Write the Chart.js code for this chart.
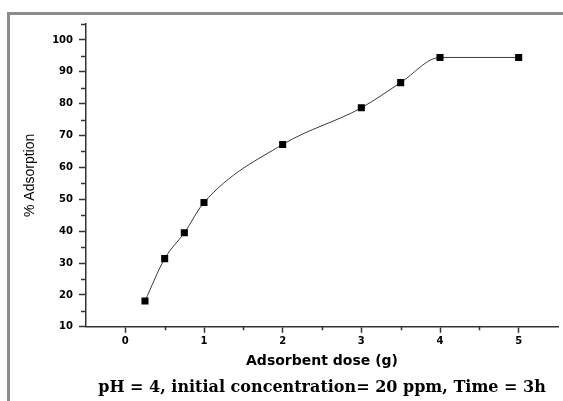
<!DOCTYPE html>
<html>
<head>
<meta charset="utf-8">
<script src="https://cdn.jsdelivr.net/npm/chart.js@4.4.1/dist/chart.umd.min.js"></script>
<style>
  html, body { margin: 0; padding: 0; background: #fff; overflow: hidden; }
  #wrap { position: relative; width: 563px; height: 401px; overflow: hidden; }
  #frame {
    position: absolute; left: 7px; top: 12px; width: 620px; height: 460px;
    border-left: 3px solid #8c8c8c; border-top: 3px solid #8c8c8c;
  }
  #chart { position: absolute; left: 0; top: 0; }
</style>
</head>
<body>
<div id="wrap">
  <div id="frame"></div>
  <canvas id="chart" width="563" height="401"></canvas>
</div>
<script>
// Data
const doses = [0.25, 0.5, 0.75, 1, 2, 3, 3.5, 4, 5]
const adsorption = [18.1, 31.4, 39.5, 49.0, 67.2, 78.7, 86.6, 94.5, 94.5]

// Ticks
const xTicks = [0, 1, 2, 3, 4, 5]
const xMinorTicks = [0.5, 1.5, 2.5, 3.5, 4.5]
const yTicks = [10, 20, 30, 40, 50, 60, 70, 80, 90, 100]
const yMinorTicks = [15, 25, 35, 45, 55, 65, 75, 85, 95, 105]

const axisColor = '#333'
const tickFont = { family: 'DejaVu Sans', size: 10, weight: 'bold' }

// Short minor tick marks, drawn outside the plot area
const minorTicks = {
  id: 'minorTicks',
  afterDraw(chart) {
    const { ctx, scales: { x, y } } = chart
    ctx.save()
    ctx.strokeStyle = axisColor
    ctx.lineWidth = 1.5
    ctx.beginPath()
    yMinorTicks.forEach(v => {
      const py = Math.round(y.getPixelForValue(v)) + 0.5
      ctx.moveTo(y.right - 5, py)
      ctx.lineTo(y.right, py)
    })
    xMinorTicks.forEach(v => {
      const px = Math.round(x.getPixelForValue(v)) + 0.5
      ctx.moveTo(px, x.top)
      ctx.lineTo(px, x.top + 3.5)
    })
    ctx.stroke()
    ctx.restore()
  }
}

const ctx = document.getElementById('chart').getContext('2d')
new Chart(ctx, {
  type: 'line',
  data: {
    datasets: [
      {
        data: doses.map((d, i) => ({ x: d, y: adsorption[i] })),
        borderColor: '#3a3a3a',
        borderWidth: 1,
        cubicInterpolationMode: 'monotone',
        pointStyle: 'rect',
        pointRadius: 5,
        pointBackgroundColor: '#000',
        pointBorderWidth: 0,
        fill: false
      }
    ]
  },
  options: {
    responsive: false,
    animation: false,
    layout: { padding: { top: 24, left: 0, right: 0, bottom: 0 } },
    plugins: {
      legend: { display: false },
      tooltip: { enabled: false },
      title: {
        display: true,
        position: 'bottom',
        fullSize: false,
        text: 'pH = 4, initial concentration= 20 ppm, Time = 3h',
        color: '#000',
        font: { family: 'DejaVu Serif', size: 16, weight: 'bold' },
        padding: { top: 0, bottom: 4 }
      }
    },
    scales: {
      x: {
        type: 'linear',
        min: -0.5,
        max: 5.5,
        afterBuildTicks: scale => { scale.ticks = xTicks.map(v => ({ value: v })) },
        afterFit: scale => { scale.height = 51 },
        grid: { drawOnChartArea: false, tickLength: 6, tickColor: axisColor, tickWidth: 1.5 },
        border: { color: axisColor, width: 1.5 },
        ticks: { color: '#000', font: tickFont, padding: 3 },
        title: {
          display: true,
          text: 'Adsorbent dose (g)',
          color: '#000',
          font: { family: 'DejaVu Sans', size: 14, weight: 'bold' },
          padding: { top: 0, bottom: 8 }
        }
      },
      y: {
        min: 10,
        max: 105,
        afterBuildTicks: scale => { scale.ticks = yTicks.map(v => ({ value: v })) },
        afterFit: scale => { scale.width = 86 },
        grid: { drawOnChartArea: false, tickLength: 7, tickColor: axisColor, tickWidth: 1.5 },
        border: { color: axisColor, width: 1.5 },
        ticks: { color: '#000', font: tickFont, padding: 6 },
        title: {
          display: true,
          text: '% Adsorption',
          color: '#000',
          font: { family: 'Liberation Sans', size: 14 },
          padding: { top: 22, bottom: 0 }
        }
      }
    }
  },
  plugins: [minorTicks]
})
</script>
</body>
</html>
